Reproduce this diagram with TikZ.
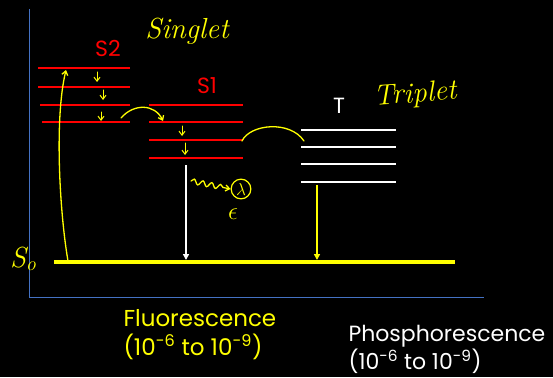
\documentclass[tikz,border=0pt]{standalone}
\usepackage{fontspec}
\newfontfamily\gothic{Poppins}
\definecolor{lvlred}{RGB}{255,0,0}
\definecolor{inkyellow}{RGB}{255,255,0}
\definecolor{axisblue}{RGB}{68,114,196}
\usetikzlibrary{arrows.meta,positioning,decorations.pathmorphing}

\begin{document}
\begin{tikzpicture}[
  x=1pt,y=-1pt,
  every node/.style={font=\gothic\fontsize{22}{29}\selectfont},
  redlvl/.style={lvlred,line width=2.8pt},
  whitelvl/.style={white,line width=2.8pt},
  ink/.style={inkyellow,line width=1.3pt,line cap=round},
  hand/.style={text=inkyellow,font=\itshape\fontsize{29}{30}\selectfont},
  arr/.style={-{Triangle[length=6pt,width=6pt]}},
  barb/.style={-{Straight Barb[length=4pt,width=6pt]}},
]
  % background and frame
  \fill[black] (0,0) rectangle (553,377);
  \useasboundingbox (0,0) rectangle (553,377);
  \draw[axisblue,line width=0.9pt] (29,9) -- (29,297) -- (484,297);

  % S2 levels
  \foreach \y/\x in {68/38,87/38,105/40,122/42}
    \draw[redlvl] (\x,\y) -- (130,\y);
  \node[text=lvlred] (lblS2) at (108,48) {S2};

  % S1 levels
  \foreach \y in {105,122,140,158}
    \draw[redlvl] (149,\y) -- (243,\y);
  \node[text=lvlred] (lblS1) at (207,86) {S1};

  % triplet levels
  \foreach \y in {130,147,164,182}
    \draw[whitelvl] (301,\y) -- (396,\y);
  \node[text=white] (lblT) at (339,106) {T};

  % ground state
  \draw[inkyellow,line width=3.5pt] (54,262) -- (455,262);

  % handwritten labels
  \node[hand] (singlet) at (187,31) {Singlet};
  \node[hand,rotate=4] (triplet) at (415,95) {Triplet};
  \node[hand] (lblS0) at (23,259) {S\raisebox{-3pt}{\fontsize{20}{20}\selectfont o}};

  % points on the levels
  \coordinate (s0exc) at (68,261);
  \coordinate (s2top) at (66,70);
  \coordinate (s2bot) at (121,118);
  \coordinate (s1in) at (163,121);
  \coordinate (s1out) at (242,141);
  \coordinate (tin) at (304,141);
  \coordinate (s1bot) at (186,165);
  \coordinate (s0fl) at (186,260);
  \coordinate (tbot) at (317,185);
  \coordinate (s0ph) at (317,260);
  \coordinate (wave) at (191,181);

  % excitation and crossings
  \draw[ink,barb] (s0exc) .. controls (60,215) and (54,120) .. (s2top);
  \draw[ink,barb] (s2bot) .. controls (134,103) and (155,104) .. (s1in);
  \draw[ink] (s1out) .. controls (250,124) and (290,120) .. (tin);

  % relaxation steps
  \foreach \x/\ya/\yb in {97/72/82,103/90/100,101/112/121,182/126/136,185/143/155}
    \draw[ink,line width=1pt,barb] (\x,\ya) -- (\x,\yb);

  % emissions
  \draw[arr,white,line width=2pt] (s1bot) -- (s0fl);
  \draw[arr,inkyellow,line width=2pt] (tbot) -- (s0ph);

  % photon
  \node[draw=inkyellow,line width=1.2pt,circle,inner sep=1.5pt,text=inkyellow,
        font=\fontsize{16}{16}\selectfont] (lambda) at (241,189) {$\lambda$};
  \draw[ink,barb,decorate,decoration={snake,amplitude=2.5pt,segment length=9pt,post length=5pt}]
    (wave) -- (lambda.west);
  \node[text=inkyellow,font=\fontsize{26}{26}\selectfont] (eps) at (233,214) {$\epsilon$};

  % time scales
  \node[text=inkyellow,align=left,anchor=north west,font=\gothic\fontsize{23}{29}\selectfont]
    (fluor) at (120,306)
    {Fluorescence\\(10\textsuperscript{-6} to 10\textsuperscript{-9})};
  \node[text=white,align=left,anchor=north west,font=\gothic\fontsize{22}{25}\selectfont]
    (phos) at (345,322)
    {Phosphorescence\\(10\textsuperscript{-6} to 10\textsuperscript{-9})};
\end{tikzpicture}
\end{document}
